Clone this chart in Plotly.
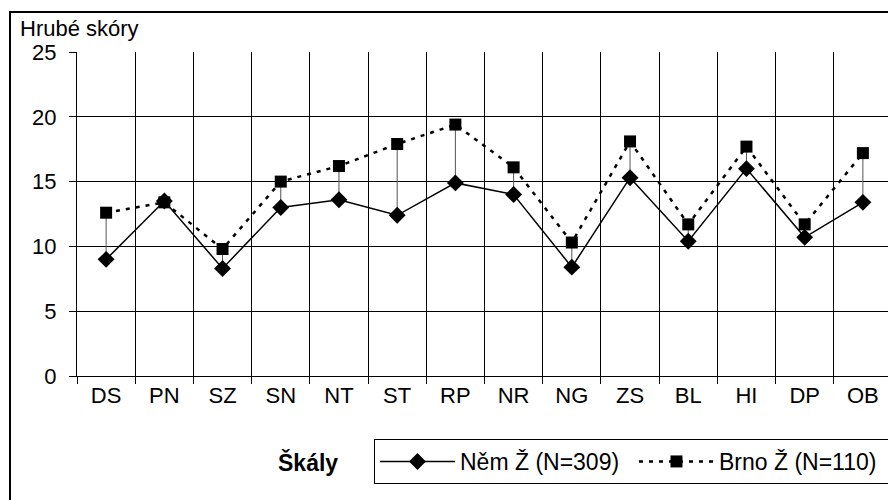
import plotly.graph_objects as go

# Scale names and raw scores for the two groups
scales = ["DS", "PN", "SZ", "SN", "NT", "ST", "RP", "NR", "NG", "ZS", "BL", "HI", "DP", "OB"]
nem_z = [9.0, 13.5, 8.3, 13.0, 13.6, 12.4, 14.9, 14.0, 8.4, 15.3, 10.4, 16.0, 10.7, 13.4]
brno_z = [12.6, 13.4, 9.8, 15.0, 16.2, 17.9, 19.4, 16.1, 10.3, 18.1, 11.7, 17.7, 11.7, 17.2]

y_ticks = [0, 5, 10, 15, 20, 25]

# high-low lines between the two series
drop_x, drop_y = [], []
for s, a, b in zip(scales, nem_z, brno_z):
    drop_x += [s, s, None]
    drop_y += [a, b, None]

fig = go.Figure()

fig.add_trace(go.Scatter(
    x=drop_x, y=drop_y, mode="lines",
    line=dict(color="#555555", width=1),
    showlegend=False, hoverinfo="skip",
))

fig.add_trace(go.Scatter(
    x=scales, y=nem_z, mode="lines+markers", name="Něm Ž (N=309)",
    line=dict(color="black", width=1.5),
    marker=dict(symbol="diamond", size=13, color="black"),
))

fig.add_trace(go.Scatter(
    x=scales, y=brno_z, mode="lines+markers", name="Brno Ž (N=110)",
    line=dict(color="black", width=2.5, dash="4px,6px"),
    marker=dict(symbol="square", size=12, color="black"),
))

fig.update_xaxes(
    type="category",
    range=[-0.5, len(scales) - 0.5],
    tickson="boundaries",
    ticks="outside", ticklen=7, tickcolor="black",
    showgrid=True, gridcolor="black", gridwidth=1,
    showline=True, linecolor="black", linewidth=1,
    tickfont=dict(size=22, color="black"),
)
fig.update_yaxes(
    range=[0, 25], tickvals=y_ticks,
    ticks="outside", ticklen=7, tickcolor="black",
    ticklabelstandoff=8,
    showgrid=True, gridcolor="black", gridwidth=1,
    showline=True, linecolor="black", linewidth=1,
    zeroline=False,
    tickfont=dict(size=22, color="black"),
)

# page body adds an 8px offset, so the figure is 8px smaller and shifted margins
fig.update_layout(
    width=888, height=492,
    margin=dict(l=69, r=4, t=44, b=124, autoexpand=False),
    paper_bgcolor="white", plot_bgcolor="white",
    font=dict(family="Liberation Sans, Arial, sans-serif", size=22, color="black"),
    showlegend=True,
    legend=dict(
        orientation="h", x=0.3644, y=-0.1944, xanchor="left", yanchor="top",
        bordercolor="black", borderwidth=1, bgcolor="white",
        font=dict(size=23), itemwidth=75,
        entrywidth=169, entrywidthmode="pixels",
    ),
    annotations=[
        dict(text="Hrubé skóry", xref="paper", yref="paper", x=-0.0724, y=1.074,
             xanchor="left", yanchor="middle", showarrow=False, font=dict(size=22)),
        dict(text="<b>Škály</b>", xref="paper", yref="paper", x=0.2834, y=-0.2685,
             xanchor="center", yanchor="middle", showarrow=False, font=dict(size=23)),
    ],
    shapes=[
        dict(type="rect", xref="paper", yref="paper",
             x0=-0.0822, x1=1.02, y0=-0.45, y1=1.1235,
             line=dict(color="black", width=2)),
    ],
)

fig.write_html("out.html")
